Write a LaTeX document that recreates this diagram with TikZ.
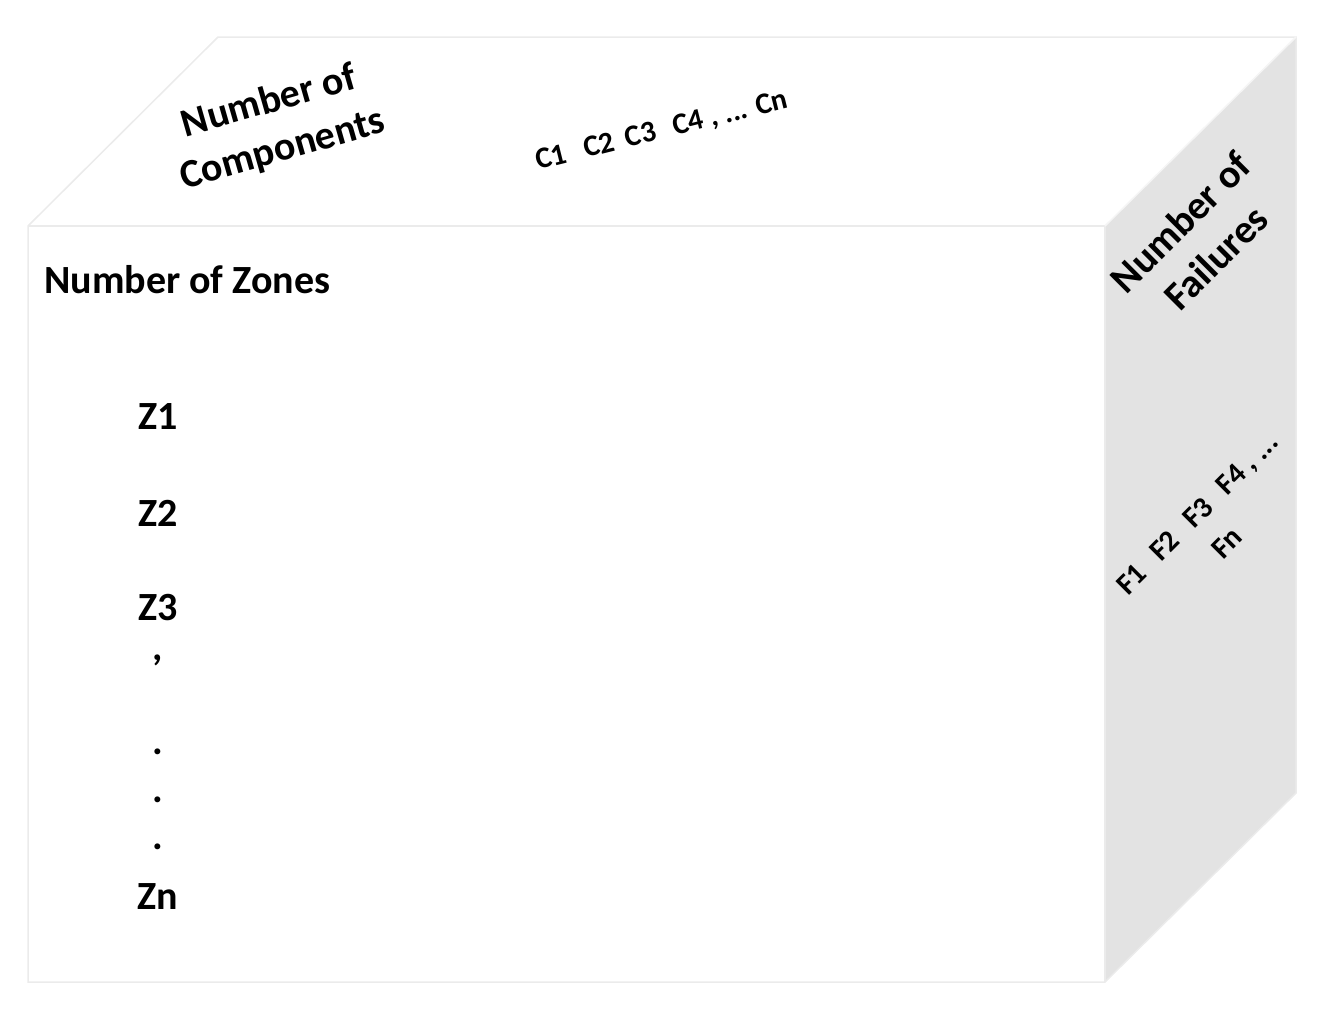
\documentclass[tikz,border=0pt]{standalone}
\usepackage{fontspec}
\setmainfont{Carlito}
\begin{document}
\begin{tikzpicture}[x=1pt,y=-1pt,
  edge/.style={draw=black!8, line width=1.5pt},
  lbl/.style={font=\fontsize{40}{50}\selectfont\bfseries, inner sep=0pt},
  zlbl/.style={font=\fontsize{40}{44}\selectfont\bfseries, inner sep=0pt},
  small/.style={font=\fontsize{30}{42}\selectfont\bfseries, inner sep=0pt, align=center}]
\useasboundingbox (0,0) rectangle (1336,1020);
% faces
\coordinate (A) at (28,226);
\coordinate (B) at (1105,226);
\coordinate (C) at (1105,982);
\coordinate (D) at (28,982);
\coordinate (E) at (218,37);
\coordinate (F) at (1296,37);
\coordinate (G) at (1296,793);
\fill[white] (A) -- (E) -- (F) -- (B) -- cycle;
\fill[black!11] (B) -- (F) -- (G) -- (C) -- cycle;
\draw[edge] (A) -- (E) -- (F) -- (G) -- (C) -- (D) -- cycle;
\draw[edge] (A) -- (B) -- (C);
\draw[edge, draw=black!4] (B) -- (F);
% texts
\node[lbl, rotate=16, align=center] (comp) at (276,126) {Number of\\Components};
\node[small, rotate=14] (clist) at (662,131) {C1\hspace{0.6em}C2\hspace{0.4em}C3\hspace{0.6em}C4 , ... Cn};
\node[lbl, anchor=west] (zones) at (44,280) {Number of Zones};
\node[lbl, rotate=45, align=center] (fail) at (1198,240) {Number of\\Failures};
\node[small, rotate=45] (flist) at (1212,528) {F1\hspace{0.6em}F2\hspace{0.6em}F3\hspace{0.6em}F4 , ...\\Fn};
\node[zlbl] (z1) at (158,417) {Z1};
\node[zlbl] (z2) at (158,513) {Z2};
\node[zlbl] (z3) at (158,608) {Z3};
\node[zlbl] (zc) at (158,660) {,};
\node[zlbl] (d1) at (158,752) {.};
\node[zlbl] (d2) at (158,800) {.};
\node[zlbl] (d3) at (158,847) {.};
\node[zlbl] (zn) at (158,897) {Zn};
\end{tikzpicture}
\end{document}
